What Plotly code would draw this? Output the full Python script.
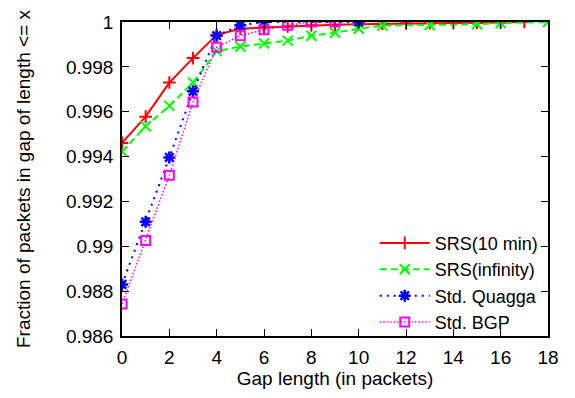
import plotly.graph_objects as go

# Data
red_x = list(range(0, 18))
red_y = [0.99461, 0.99578, 0.99730, 0.99839, 0.99943, 0.99970, 0.99975, 0.99980,
         0.99985, 0.99988, 0.99990, 0.99992, 0.99994, 0.99995, 0.99996, 0.99997, 0.99998, 1.0]
green_x = [0, 1, 2, 3, 4, 5, 6, 7, 8, 9, 10, 11, 13, 15, 16, 18]
green_y = [0.99422, 0.99535, 0.99626, 0.99730, 0.99870, 0.99891, 0.99904, 0.99917,
           0.99939, 0.99952, 0.99970, 0.99984, 0.99987, 0.99990, 0.99995, 1.0]
blue_x = [0, 1, 2, 3, 4, 5, 6, 10]
blue_y = [0.98830, 0.99109, 0.99396, 0.99691, 0.99939, 0.99985, 1.0, 1.0]
mag_x = [0, 1, 2, 3, 4, 5, 6, 7, 8, 9]
mag_y = [0.98743, 0.99026, 0.99317, 0.99643, 0.99887, 0.99939, 0.99965, 0.99985, 1.0, 1.0]

names = ["SRS(10 min)", "SRS(infinity)", "Std. Quagga", "Std. BGP"]
x_ticks = list(range(0, 19, 2))
y_ticks = [0.986, 0.988, 0.99, 0.992, 0.994, 0.996, 0.998, 1]
y_tick_text = ["0.986", "0.988", "0.99", "0.992", "0.994", "0.996", "0.998", "1"]

FONT = "Liberation Sans, Arial"
FS = 19

fig = go.Figure()
fig.add_trace(go.Scatter(x=red_x, y=red_y, name=names[0], mode="lines+markers",
    line=dict(color="#ff0000", width=2, dash="solid"),
    marker=dict(symbol="cross-thin", size=9, line=dict(color="#ff0000", width=2))))
fig.add_trace(go.Scatter(x=green_x, y=green_y, name=names[1], mode="lines+markers",
    line=dict(color="#00ff00", width=2, dash="7px,4px"),
    marker=dict(symbol="x-thin", size=10, line=dict(color="#00ff00", width=2))))
fig.add_trace(go.Scatter(x=blue_x, y=blue_y, name=names[2], mode="lines+markers",
    line=dict(color="#0000ff", width=2, dash="2px,5px"),
    marker=dict(symbol="asterisk", size=10, line=dict(color="#0000ff", width=2.5))))
fig.add_trace(go.Scatter(x=mag_x, y=mag_y, name=names[3], mode="lines+markers",
    line=dict(color="#ff00ff", width=1.5, dash="1.5px,2px"),
    marker=dict(symbol="square-open", size=9, color="#ff00ff", line=dict(color="#ff00ff", width=2))))

axis_common = dict(showgrid=False, zeroline=False, showline=True, linecolor="black",
                   linewidth=1.5, mirror="allticks", ticks="inside", ticklen=7,
                   tickwidth=1, tickcolor="black", ticklabelstandoff=3,
                   tickfont=dict(family=FONT, size=FS, color="black"))

fig.update_xaxes(range=[0, 18], tickvals=x_ticks, **axis_common,
                 title=dict(text="Gap length (in packets)", standoff=5,
                            font=dict(family=FONT, size=FS, color="black")))
fig.update_yaxes(range=[0.986, 1], tickvals=y_ticks, ticktext=y_tick_text, **axis_common,
                 title=dict(text="Fraction of packets in gap of length <= x", standoff=30,
                            font=dict(family=FONT, size=FS, color="black")))

fig.update_layout(
    width=575, height=398,
    margin=dict(l=122, r=27, t=15, b=60),
    plot_bgcolor="white", paper_bgcolor="white",
    legend=dict(x=0.99, y=-0.015, xanchor="right", yanchor="bottom",
                bgcolor="rgba(0,0,0,0)", tracegroupgap=0, itemwidth=50,
                font=dict(family=FONT, size=18, color="black")),
    showlegend=True,
)

fig.write_html("out.html")
